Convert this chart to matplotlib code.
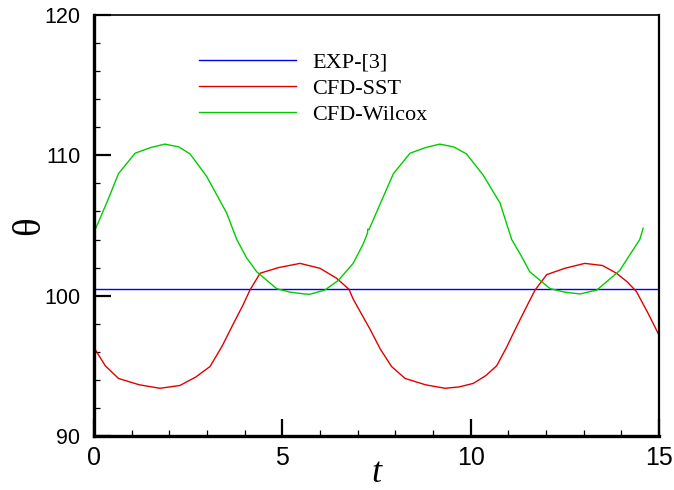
import matplotlib
matplotlib.use("Agg")
import matplotlib.pyplot as plt
from matplotlib.ticker import MultipleLocator

# Experimental reference angle
exp_theta = 100.45
exp_t = [0.0, 15.0]

# CFD, SST turbulence model
t_sst = [0.0, 0.3, 0.65, 1.2, 1.75, 2.28, 2.7, 3.08, 3.4, 3.70, 3.95, 4.14,
         4.41, 4.9, 5.47, 6.0, 6.44, 6.77, 6.88, 7.1, 7.33, 7.6, 7.90, 8.26,
         8.8, 9.32, 9.7, 10.07, 10.4, 10.69, 10.95, 11.22, 11.5, 11.71,
         12.02, 12.5, 13.03, 13.5, 13.87, 14.15, 14.40, 14.7, 14.98]
theta_sst = [96.3, 95.0, 94.1, 93.65, 93.4, 93.6, 94.2, 94.95, 96.4, 98.0,
             99.3, 100.4, 101.6, 102.0, 102.3, 101.95, 101.24, 100.45, 99.76,
             98.7, 97.6, 96.2, 94.95, 94.1, 93.65, 93.4, 93.5, 93.75, 94.3,
             95.0, 96.3, 97.8, 99.3, 100.4, 101.5, 101.95, 102.3, 102.15,
             101.6, 101.0, 100.3, 98.8, 97.3]

# CFD, Wilcox k-omega model
t_wil = [0.03, 0.35, 0.65, 1.09, 1.5, 1.88, 2.25, 2.55, 2.99, 3.52, 3.79,
         4.05, 4.32, 4.85, 5.2, 5.6, 5.73, 6.13, 6.49, 6.88, 7.15, 7.26,
         7.27, 7.3, 7.64, 7.95, 8.39, 8.8, 9.18, 9.55, 9.89, 10.33, 10.78,
         11.09, 11.35, 11.57, 12.11, 12.5, 12.9, 13.35, 13.96, 14.2, 14.49,
         14.58]
theta_wil = [104.7, 106.7, 108.7, 110.15, 110.55, 110.8, 110.6, 110.1,
             108.5, 105.9, 104.0, 102.7, 101.7, 100.5, 100.25, 100.12, 100.1,
             100.4, 101.1, 102.3, 103.7, 104.45, 104.75, 104.7, 106.8, 108.7,
             110.15, 110.55, 110.8, 110.6, 110.1, 108.6, 106.6, 104.0, 102.8,
             101.7, 100.5, 100.25, 100.12, 100.4, 101.8, 102.8, 104.0, 104.8]

plt.rcParams["font.family"] = ["Liberation Sans", "DejaVu Sans"]

fig = plt.figure(figsize=(6.74, 4.90), dpi=100)
ax = fig.add_axes([0.1395, 0.1102, 0.8382, 0.8592])

ax.plot(exp_t, [exp_theta, exp_theta], color="#0000ff", lw=1.0, label="EXP-[3]")
ax.plot(t_sst, theta_sst, color="#e00000", lw=1.0, label="CFD-SST")
ax.plot(t_wil, theta_wil, color="#00cc00", lw=1.0, label="CFD-Wilcox")

ax.set_xlim(0, 15)
ax.set_ylim(90, 120)
ax.xaxis.set_major_locator(MultipleLocator(5))
ax.xaxis.set_minor_locator(MultipleLocator(1))
ax.yaxis.set_major_locator(MultipleLocator(10))
ax.yaxis.set_minor_locator(MultipleLocator(2))

ax.tick_params(which="both", direction="in", top=False, right=False)
ax.tick_params(which="major", length=12, width=1.6)
ax.tick_params(which="minor", length=4.5, width=0.9)
ax.tick_params(axis="x", which="major", labelsize=18, pad=7)
ax.tick_params(axis="y", which="major", labelsize=15.5, pad=10)

ax.spines["left"].set_linewidth(2.4)
ax.spines["bottom"].set_linewidth(2.4)
ax.spines["top"].set_linewidth(1.2)
ax.spines["right"].set_linewidth(1.6)

ax.set_xlabel("t", fontsize=26, fontstyle="italic", family="Liberation Serif",
              labelpad=-9)
ax.set_ylabel("θ", fontsize=28, family="Liberation Serif", labelpad=-3)

leg = ax.legend(loc="upper left", bbox_to_anchor=(0.185, 0.912), frameon=False,
                prop={"family": "Liberation Serif", "size": 16},
                handlelength=4.4, handletextpad=0.72, labelspacing=0.26,
                borderpad=0, borderaxespad=0)

fig.savefig("out.png", dpi=100)
